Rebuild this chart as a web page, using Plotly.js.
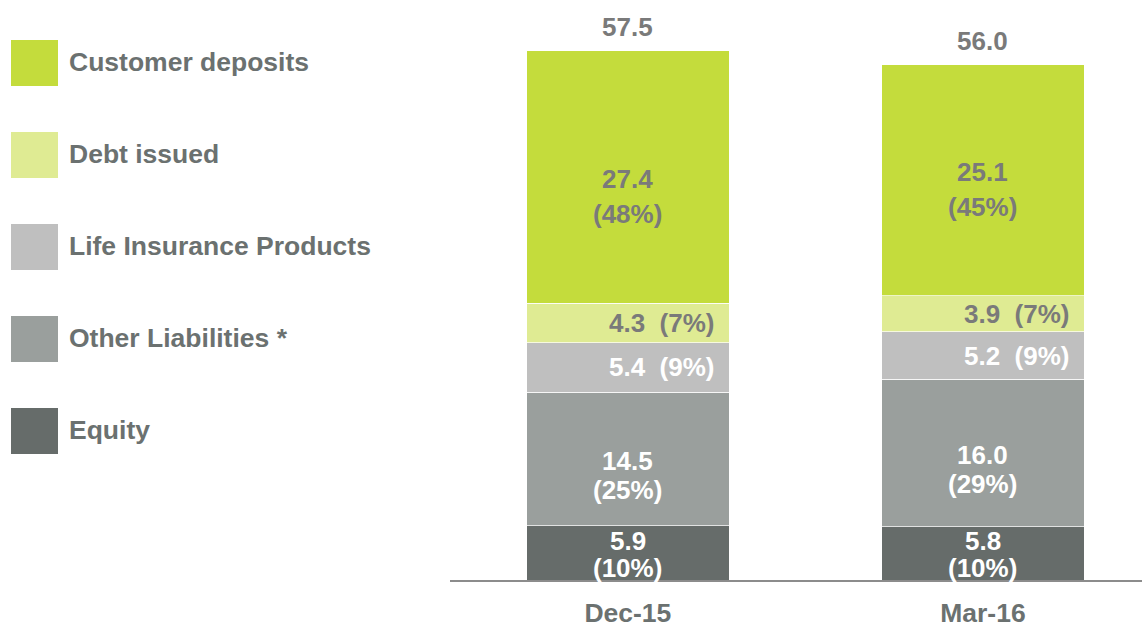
<!DOCTYPE html>
<html>
<head>
<meta charset="utf-8">
<script src="https://cdn.plot.ly/plotly-3.0.1.min.js"></script>
<style>html,body{margin:0;padding:0;background:#fff;}#chart{width:1142px;height:627px;}</style>
</head>
<body>
<div id="chart"></div>
<script>
// ---- data ----
const categories = ["Dec-15", "Mar-16"];
const seriesNames = ["Equity", "Other Liabilities *", "Life Insurance Products", "Debt issued", "Customer deposits"];
const equity = [5.9, 5.8];
const otherLiabilities = [14.5, 16.0];
const lifeInsurance = [5.4, 5.2];
const debtIssued = [4.3, 3.9];
const customerDeposits = [27.4, 25.1];
const totals = [57.5, 56.0];
const equityPct = ["10%", "10%"];
const otherPct = ["25%", "29%"];
const lifePct = ["9%", "9%"];
const debtPct = ["7%", "7%"];
const customerPct = ["48%", "45%"];

// ---- styles ----
const FONT = '"Liberation Sans", Arial, sans-serif';
const colors = ["#666c6a", "#9a9f9d", "#bfbfbf", "#dfeb93", "#c4dc3c"];
const textColors = ["#ffffff", "#ffffff", "#ffffff", "#7a7a7a", "#7a7a7a"];
const barWidth = 0.57;
const FS = 26;
const LFS = 26.5;

const seriesValues = [equity, otherLiabilities, lifeInsurance, debtIssued, customerDeposits];
const seriesPct = [equityPct, otherPct, lifePct, debtPct, customerPct];

const traces = seriesValues.map((vals, k) => ({
  type: "bar",
  name: seriesNames[k],
  x: [0, 1],
  y: vals,
  width: barWidth,
  marker: {color: colors[k], line: {color: "rgba(255,255,255,0.7)", width: 1}},
  hoverinfo: "skip",
  showlegend: false
}));

const annotations = [];
const shapes = [];
const fmt = v => v.toFixed(1);

for (let i = 0; i < categories.length; i++) {
  let base = 0;
  seriesValues.forEach((vals, k) => {
    const v = vals[i];
    const mid = base + v / 2;
    const col = textColors[k];
    const font = {family: FONT, size: FS, color: col};
    if (k === 2 || k === 3) {
      // one-line label, right aligned in the bar
      annotations.push({x: i + barWidth / 2, y: mid, xref: "x", yref: "y",
        text: "<b>" + fmt(v) + "  (" + seriesPct[k][i] + ")</b>",
        showarrow: false, xanchor: "right", yanchor: "middle", xshift: -12, font: font});
    } else {
      let yRef, s1, s2;
      if (k === 0) { yRef = mid; s1 = 12; s2 = -15; }
      else if (k === 1) { yRef = mid; s1 = -2; s2 = -30.5; }
      else { yRef = base; s1 = 124; s2 = 89; }
      annotations.push({x: i, y: yRef, xref: "x", yref: "y", text: "<b>" + fmt(v) + "</b>",
        showarrow: false, xanchor: "center", yanchor: "middle", yshift: s1, font: font});
      annotations.push({x: i, y: yRef, xref: "x", yref: "y", text: "<b>(" + seriesPct[k][i] + ")</b>",
        showarrow: false, xanchor: "center", yanchor: "middle", yshift: s2, font: font});
    }
    base += v;
  });
  annotations.push({x: i, y: totals[i], xref: "x", yref: "y", text: "<b>" + fmt(totals[i]) + "</b>",
    showarrow: false, xanchor: "center", yanchor: "bottom", yshift: 7,
    font: {family: FONT, size: FS, color: "#7a7a7a"}});
}

// legend (custom, top to bottom: Customer deposits ... Equity)
const W = 1142, H = 627, ML = 450, MB = 47, MT = 0, MR = 0;
const pw = W - ML - MR, ph = H - MT - MB;
const px2x = p => (p - ML) / pw;
const py2y = p => 1 - (p - MT) / ph;
for (let j = 0; j < seriesNames.length; j++) {
  const k = seriesNames.length - 1 - j;
  const top = 40 + j * 92;
  shapes.push({type: "rect", xref: "paper", yref: "paper",
    x0: px2x(11), x1: px2x(58), y0: py2y(top + 46), y1: py2y(top),
    fillcolor: colors[k], line: {width: 0}});
  annotations.push({xref: "paper", yref: "paper", x: px2x(67), y: py2y(top + 22),
    text: "<b>" + seriesNames[k] + "</b>", showarrow: false, xanchor: "left", yanchor: "middle",
    font: {family: FONT, size: LFS, color: "#6b7170"}});
}

const layout = {
  width: W, height: H,
  margin: {l: ML, r: MR, t: MT, b: MB, pad: 0},
  barmode: "stack",
  paper_bgcolor: "#ffffff",
  plot_bgcolor: "#ffffff",
  showlegend: false,
  xaxis: {
    range: [-0.501, 1.448],
    tickmode: "array", tickvals: [0, 1], ticktext: categories.map(c => "<b>" + c + "</b>"),
    showgrid: false, zeroline: false,
    showline: true, linecolor: "#8c8c8c", linewidth: 2,
    ticks: "", ticklabelstandoff: 8,
    tickfont: {family: FONT, size: LFS, color: "#6b7170"},
    fixedrange: true
  },
  yaxis: {
    range: [0, 63.04], visible: false, showgrid: false, zeroline: false, fixedrange: true
  },
  annotations: annotations,
  shapes: shapes
};

Plotly.newPlot("chart", traces, layout, {displayModeBar: false, staticPlot: true});
</script>
</body>
</html>
